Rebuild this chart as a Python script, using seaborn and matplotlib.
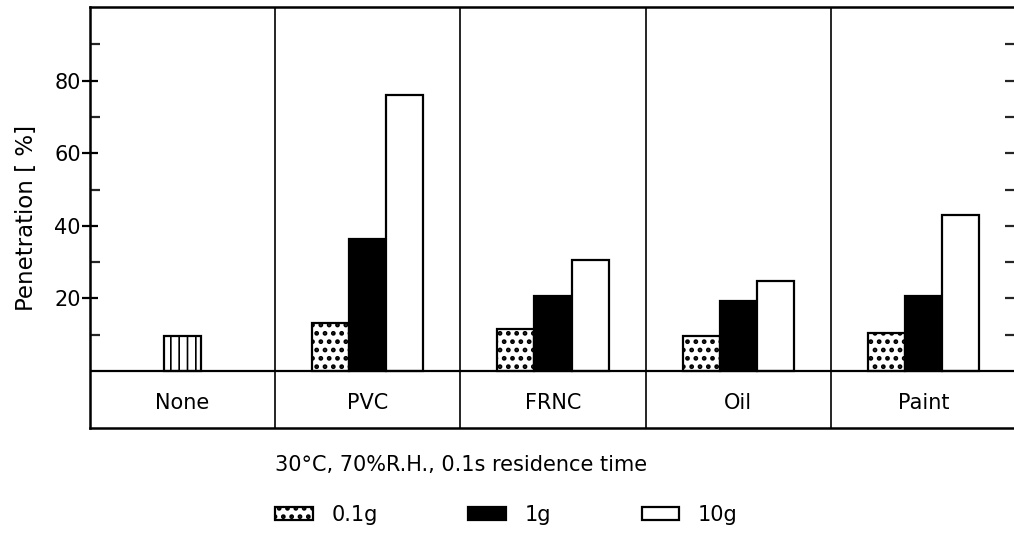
import matplotlib
matplotlib.use("Agg")
import matplotlib.pyplot as plt
from matplotlib.patches import Patch
import seaborn as sns
import pandas as pd
import numpy as np

# ---- data ----
materials = ["None", "PVC", "FRNC", "Oil", "Paint"]
doses = ["0.1g", "1g", "10g"]
coated = ["PVC", "FRNC", "Oil", "Paint"]
pen_01g = [13.3, 11.6, 9.6, 10.5]
pen_1g = [36.5, 20.6, 19.2, 20.8]
pen_10g = [76.0, 30.5, 24.7, 42.9]
none_value = [9.7]
caption = "30°C, 70%R.H., 0.1s residence time"
ylabel = "Penetration [ %]"
major_ticks = [20, 40, 60, 80]
minor_ticks = [10, 30, 50, 70, 90]
right_ticks = [10, 20, 30, 40, 50, 60, 70, 80, 90]

rows = []
for m, a, b, c in zip(coated, pen_01g, pen_1g, pen_10g):
    rows += [(m, "0.1g", a), (m, "1g", b), (m, "10g", c)]
df = pd.DataFrame(rows, columns=["material", "dose", "value"])

sns.set_style("white")
plt.rcParams["font.family"] = ["DejaVu Sans"]
plt.rcParams["text.color"] = "black"
plt.rcParams["axes.labelcolor"] = "black"
plt.rcParams["hatch.color"] = "black"
plt.rcParams["hatch.linewidth"] = 2.2

fig = plt.figure(figsize=(10.14, 5.34), dpi=100)
W, H = 1014, 534
left, right, top, bottom = 90, 1016, 7, 428
ax = fig.add_axes([left / W, 1 - bottom / H, (right - left) / W, (bottom - top) / H])

palette = {"0.1g": "white", "1g": "black", "10g": "white"}
sns.barplot(data=df, x="material", y="value", hue="dose", order=materials,
            hue_order=doses, palette=palette, width=0.6, edgecolor="black",
            linewidth=1.6, legend=False, ax=ax, errorbar=None, saturation=1)
plt.rcParams["hatch.linewidth"] = 1.2
sns.barplot(x=["None"], y=none_value, order=materials, width=0.2, color="white",
            edgecolor="black", linewidth=1.6, ax=ax, errorbar=None, saturation=1)

for patch in ax.containers[0]:
    patch.set_hatch("..")
for patch in ax.containers[3]:
    patch.set_hatch("||")
    if hasattr(patch, "set_hatch_linewidth"):
        patch.set_hatch_linewidth(1.2)

ax.set_xlim(-0.5, len(materials) - 0.5)
ax.set_ylim(-15.7, 100.3)

# separators and baseline
for i in range(len(materials) - 1):
    ax.axvline(i + 0.5, color="black", lw=1.2, zorder=5)
ax.axhline(0, color="black", lw=1.6, zorder=5)

# category labels in lower band
for i, m in enumerate(materials):
    ax.text(i, -8.8, m, ha="center", va="center", fontsize=15, color="black")

ax.set_xticks([])
ax.set_xlabel("")
ax.set_ylabel(ylabel, fontsize=16.5, color="black", labelpad=12)
ax.set_yticks(major_ticks)
ax.set_yticklabels([str(t) for t in major_ticks], fontsize=15)
ax.set_yticks(minor_ticks, minor=True)
ax.tick_params(axis="y", which="major", direction="inout", length=11, width=1.6,
               left=True, pad=1, colors="black")
ax.tick_params(axis="y", which="minor", direction="in", length=7, width=1.6, left=True)

for s in ["left", "top", "bottom"]:
    ax.spines[s].set_linewidth(1.8)
    ax.spines[s].set_color("black")
ax.spines["right"].set_visible(False)

ax2 = ax.twinx()
ax2.set_ylim(ax.get_ylim())
ax2.set_yticks(right_ticks)
ax2.tick_params(axis="y", direction="in", length=8, width=1.6, right=True,
                labelright=False)
for s in ax2.spines.values():
    s.set_visible(False)

fig.text(275 / W, 1 - 465 / H, caption, ha="left", va="center", fontsize=15,
         color="black")

plt.rcParams["hatch.linewidth"] = 2.2
handles = [Patch(facecolor="white", edgecolor="black", hatch="..", lw=1.6),
           Patch(facecolor="black", edgecolor="black", lw=1.6),
           Patch(facecolor="white", edgecolor="black", lw=1.6)]
leg = fig.legend(handles, doses, loc="center left", bbox_to_anchor=(275 / W, 1 - 515 / H),
                 ncol=3, frameon=False, fontsize=15, handlelength=1.8, handleheight=0.6,
                 handletextpad=0.9, columnspacing=4.35, borderaxespad=0, borderpad=0)
for t in leg.get_texts():
    t.set_color("black")

fig.savefig("out.png", dpi=100)
